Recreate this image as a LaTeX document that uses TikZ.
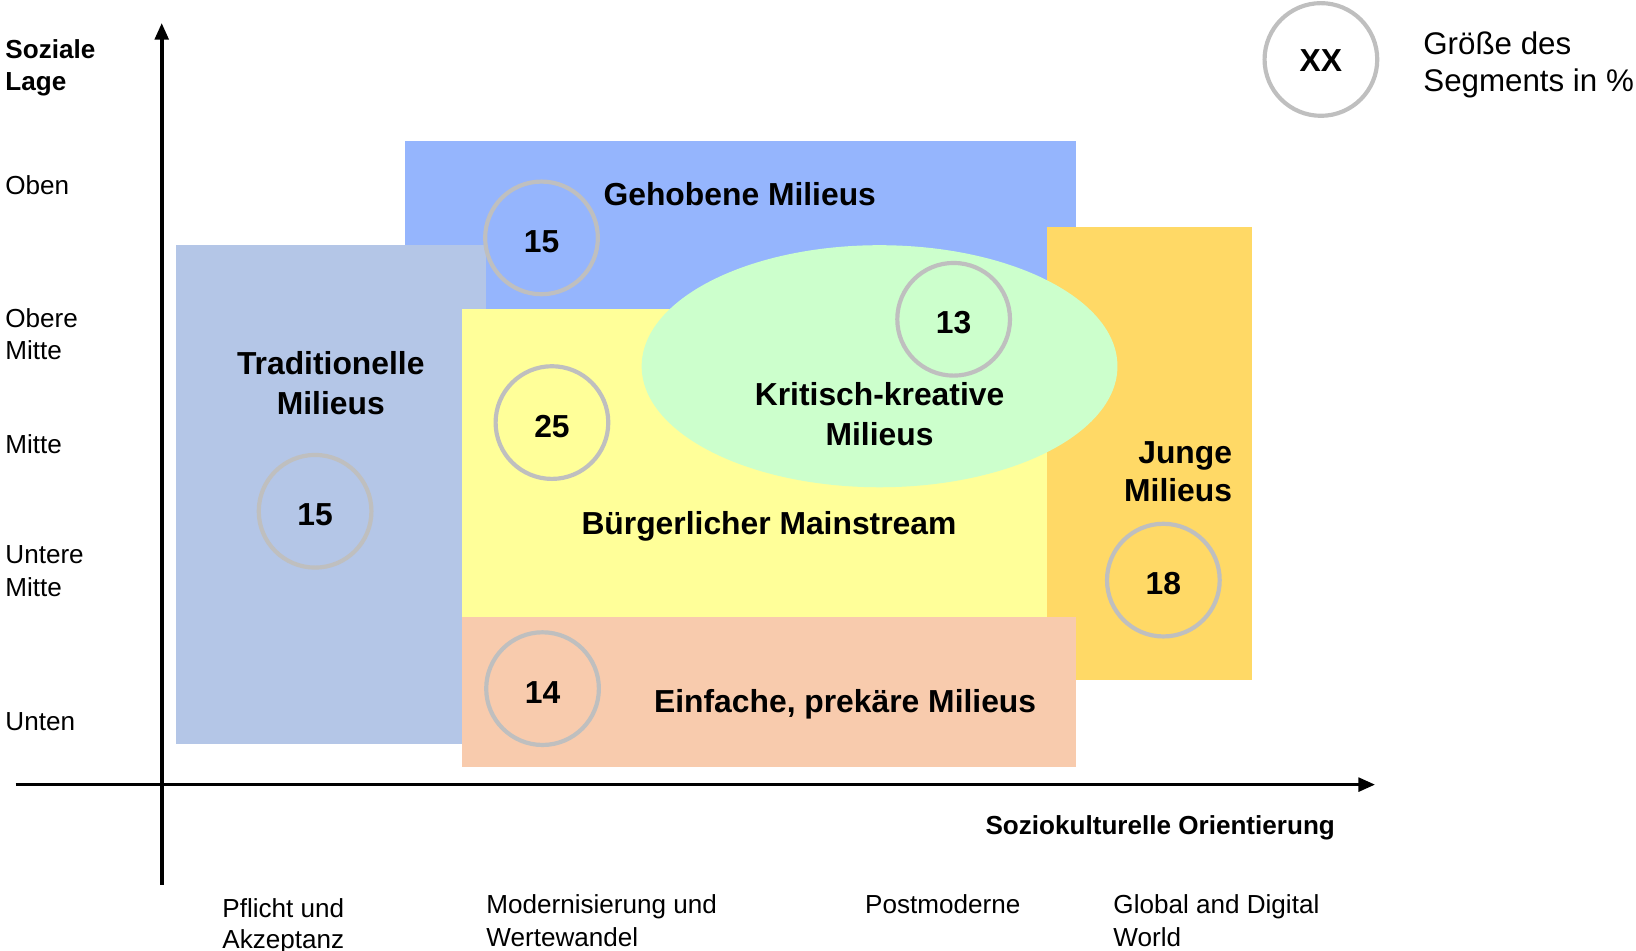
\documentclass[tikz,border=0pt]{standalone}
\usepackage{fontspec}
\setmainfont{Liberation Sans}
\usetikzlibrary{arrows.meta}
\definecolor{cGeh}{HTML}{95B5FD}
\definecolor{cTrad}{HTML}{B4C6E7}
\definecolor{cBuerg}{HTML}{FFFF99}
\definecolor{cKrit}{HTML}{CCFFCC}
\definecolor{cJung}{HTML}{FFD966}
\definecolor{cEinf}{HTML}{F8CBAD}
\definecolor{cRing}{HTML}{BFBFBF}
\begin{document}
\begin{tikzpicture}[x=1pt,y=-1pt,
  seg/.style={circle, draw=cRing, line width=4pt, minimum size=108pt, inner sep=0pt, text height=28pt, text depth=0pt, font=\fontsize{30.5}{36}\selectfont\bfseries},
  head/.style={inner sep=0pt, align=center, font=\fontsize{30.5}{38}\selectfont\bfseries},
  lab/.style={inner sep=0pt, anchor=west, align=left, font=\fontsize{25}{31}\selectfont},
  blab/.style={inner sep=0pt, anchor=west, align=left, font=\fontsize{25}{31}\selectfont\bfseries},
  axisline/.style={line width=3.5pt, -{Triangle[length=16pt,width=13pt]}}]
\useasboundingbox (0,0) rectangle (1568,911);
% regions
\fill[cGeh] (388,135) rectangle (1031,300);
\fill[cTrad] (169,235) rectangle (466,713);
\fill[cBuerg] (443,296) rectangle (1003,591);
\fill[cJung] (1003,218) rectangle (1200,652);
\fill[cEinf] (443,591) rectangle (1031,735);
\fill[cKrit] (843,351) ellipse [x radius=228, y radius=116];
% axes
\coordinate (yb) at (155,848);
\coordinate (yt) at (155,22);
\coordinate (xl) at (15,752);
\coordinate (xr) at (1318,752);
\draw[axisline] (yb) -- (yt);
\draw[axisline] (xl) -- (xr);
% segment circles
\node[seg] (sGeh) at (519,228) {15};
\node[seg] (sKrit) at (914,306) {13};
\node[seg] (sBuerg) at (529,405) {25};
\node[seg] (sTrad) at (302,490) {15};
\node[seg] (sJung) at (1115,556) {18};
\node[seg] (sEinf) at (520,660) {14};
\node[seg, text height=24pt] (sLeg) at (1266,57) {XX};
% headings
\node[head] (hGeh) at (709,186) {Gehobene Milieus};
\node[head] (hTrad) at (317,367) {Traditionelle\\Milieus};
\node[head] (hKrit) at (843,397) {Kritisch-kreative\\Milieus};
\node[head] (hBuerg) at (737,504) {Bürgerlicher Mainstream};
\node[head, align=right, anchor=east, font=\fontsize{30.5}{37}\selectfont\bfseries] (hJung) at (1181,452) {Junge\\Milieus};
\node[head] (hEinf) at (810,675) {Einfache, prekäre Milieus};
% axis labels
\node[blab] (lSoz) at (5,65) {Soziale\\Lage};
\node[lab] (lOben) at (5,177) {Oben};
\node[lab] (lOM) at (5,320.5) {Obere\\Mitte};
\node[lab] (lM) at (5,426) {Mitte};
\node[lab] (lUM) at (5,547.5) {Untere\\Mitte};
\node[lab] (lU) at (5,692) {Unten};
\node[blab, anchor=center] (lOri) at (1112,793) {Soziokulturelle Orientierung};
\node[lab, font=\fontsize{25}{30}\selectfont] (bPfl) at (213,888) {Pflicht und\\Akzeptanz};
\node[lab] (bMod) at (466,882.5) {Modernisierung und\\Wertewandel};
\node[lab] (bPost) at (829,867) {Postmoderne};
\node[lab] (bGlob) at (1067,882.5) {Global and Digital\\World};
% legend
\node[inner sep=0pt, anchor=west, align=left, font=\fontsize{30}{36}\selectfont] (lLeg) at (1364,62) {Größe des\\Segments in \%};
\end{tikzpicture}
\end{document}
